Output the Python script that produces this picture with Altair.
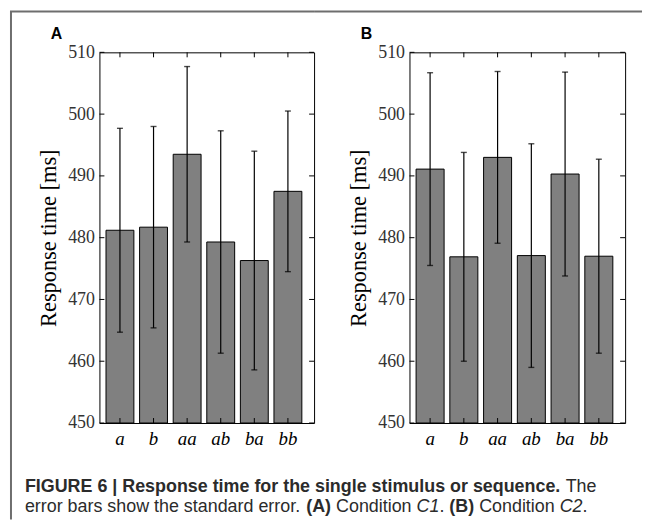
import altair as alt
import pandas as pd

# ---------------- data ----------------
categories = ["a", "b", "aa", "ab", "ba", "bb"]
mean_c1 = [481.2, 481.7, 493.5, 479.3, 476.3, 487.5]
se_c1 = [16.5, 16.3, 14.2, 18.0, 17.7, 13.0]
mean_c2 = [491.1, 476.9, 493.0, 477.1, 490.3, 477.0]
se_c2 = [15.6, 16.9, 13.9, 18.1, 16.5, 15.7]
y_ticks = [450, 460, 470, 480, 490, 500, 510]
y_title = "Response time [ms]"
panel_letters = ["A", "B"]

caption_line1 = [
    ("FIGURE 6 | Response time for the single stimulus or sequence.", "bold", "normal"),
    (" The", "normal", "normal"),
]
caption_line2 = [
    ("error bars show the standard error. ", "normal", "normal"),
    ("(A)", "bold", "normal"),
    (" Condition ", "normal", "normal"),
    ("C1", "normal", "italic"),
    (". ", "normal", "normal"),
    ("(B)", "bold", "normal"),
    (" Condition ", "normal", "normal"),
    ("C2", "normal", "italic"),
    (".", "normal", "normal"),
]

# Arial / Liberation Sans advance widths (1/1000 em), used only to chain caption segments
_REG = {" ": 278, "(": 333, ")": 333, ".": 278, "|": 260, "1": 556, "2": 556, "6": 556,
        "A": 667, "B": 667, "C": 722, "F": 611, "G": 778, "I": 278, "R": 722, "T": 611,
        "U": 722, "E": 667, "a": 556, "b": 556, "c": 500, "d": 556, "e": 556, "f": 278,
        "g": 556, "h": 556, "i": 222, "l": 222, "m": 833, "n": 556, "o": 556, "p": 556,
        "q": 556, "r": 333, "s": 500, "t": 278, "u": 556, "w": 722}
_BOLD = {" ": 278, "(": 333, ")": 333, ".": 278, "|": 280, "1": 556, "2": 556, "6": 556,
         "A": 722, "B": 722, "C": 722, "F": 611, "G": 778, "I": 278, "R": 722, "T": 611,
         "U": 722, "E": 667, "a": 556, "b": 611, "c": 556, "d": 611, "e": 556, "f": 333,
         "g": 611, "h": 611, "i": 278, "l": 278, "m": 889, "n": 611, "o": 611, "p": 611,
         "q": 611, "r": 389, "s": 556, "t": 333, "u": 611, "w": 778}


def text_width(t, weight, size):
    tbl = _BOLD if weight == "bold" else _REG
    return sum(tbl.get(ch, 556) for ch in t) * size / 1000.0


# ---------------- style / layout ----------------
FRAME = "#6e6e6e"
SERIF = "Liberation Serif"
SANS = "Liberation Sans"
CAP_SIZE = 18
H = 373            # plot height (page y 52 .. 423)
PLOT_TOP = 52      # page y of the plot tops
PLOT_LEFT = 97     # page x of panel A's plot
GAP_AB = 96        # between panel A's right edge and panel B's left edge
TOP_LINE = -41     # frame line above the plots (relative to plot top)
FRAME_BOTTOM = 522

yscale = alt.Scale(domain=[450, 510], nice=False, zero=False)
xscale = alt.Scale(paddingInner=0.17, paddingOuter=0.28, align=0.35)
xaxis = alt.Axis(title=None, labelAngle=0, ticks=False, domain=False,
                 labelFont=SERIF, labelFontStyle="italic",
                 labelFontSize=19, labelColor="black", labelPadding=7)
yaxis = alt.Axis(values=y_ticks, grid=False, ticks=False, domain=False,
                 labelFont=SERIF, labelFontSize=18, labelColor="#333333",
                 labelPadding=5, title=y_title, titleFont=SERIF,
                 titleFontSize=22.5, titleFontWeight="normal",
                 titleColor="black", titlePadding=7)


def X():
    return alt.X("cat:N", sort=categories, scale=xscale, axis=xaxis)


def Y(field):
    return alt.Y(field, scale=yscale, axis=yaxis, title=y_title)


def caption_layers():
    cbase = alt.Chart(pd.DataFrame({"d": [0]}))
    out = []
    for segs, ypage in [(caption_line1, 494), (caption_line2, 515)]:
        xp = 22 - PLOT_LEFT
        for (t, w, s) in segs:
            lead = len(t) - len(t.lstrip(" "))
            trail = len(t) - len(t.rstrip(" "))
            core = t.strip(" ")
            xp += text_width(" " * lead, "normal", CAP_SIZE)
            out.append(cbase.mark_text(
                align="left", baseline="alphabetic", font=SANS, fontSize=CAP_SIZE,
                fontWeight=w, fontStyle=s, color="#2b2b2b").encode(
                x=alt.value(xp), y=alt.value(ypage - PLOT_TOP), text=alt.value(core)))
            xp += text_width(core, w, CAP_SIZE)
            xp += text_width(" " * trail, "normal", CAP_SIZE)
    return out


def panel(means, ses, letter, width, top_x1, top_x2, first):
    df = pd.DataFrame({
        "cat": categories,
        "mean": means,
        "lo": [m - s for m, s in zip(means, ses)],
        "hi": [m + s for m, s in zip(means, ses)],
    })
    base = alt.Chart(df)
    bars = base.mark_bar(color="#808080", stroke="black", strokeWidth=1).encode(
        x=X(), y=Y("mean:Q"), y2=alt.datum(450))
    err = base.mark_rule(color="black", strokeWidth=1.2).encode(
        x=X(), y=Y("lo:Q"), y2="hi:Q")
    cap_lo = base.mark_tick(color="black", thickness=1.4, size=6).encode(
        x=X(), y=Y("lo:Q"))
    cap_hi = base.mark_tick(color="black", thickness=1.4, size=6).encode(
        x=X(), y=Y("hi:Q"))

    tbase = alt.Chart(pd.DataFrame({"v": y_ticks}))
    lt = tbase.mark_rule(color="black", strokeWidth=1).encode(
        y=Y("v:Q"), x=alt.value(0), x2=alt.value(5))
    rt = tbase.mark_rule(color="black", strokeWidth=1).encode(
        y=Y("v:Q"), x=alt.value(width - 5), x2=alt.value(width))
    bt = base.mark_rule(color="black", strokeWidth=1).encode(
        x=X(), y=alt.value(H), y2=alt.value(H - 5))
    tt = base.mark_rule(color="black", strokeWidth=1).encode(
        x=X(), y=alt.value(0), y2=alt.value(5))

    one = alt.Chart(pd.DataFrame({"t": [letter]}))
    top_line = one.mark_rule(color=FRAME, strokeWidth=2).encode(
        x=alt.value(top_x1), x2=alt.value(top_x2), y=alt.value(TOP_LINE))
    lab = one.mark_text(align="left", baseline="alphabetic", font=SANS,
                        fontSize=16, fontWeight="bold", color="black").encode(
        text="t:N", x=alt.value(-49), y=alt.value(-13))
    layers = [bars, err, cap_lo, cap_hi, lt, rt, bt, tt, top_line, lab]
    if first:
        left_line = one.mark_rule(color=FRAME, strokeWidth=2).encode(
            x=alt.value(-89), y=alt.value(TOP_LINE),
            y2=alt.value(FRAME_BOTTOM - PLOT_TOP))
        layers.append(left_line)
        layers.extend(caption_layers())
    return alt.layer(*layers).properties(
        width=width, height=H,
        view=alt.ViewBackground(stroke="black", strokeWidth=1))


pA = panel(mean_c1, se_c1, panel_letters[0], 216, -90, 216, True)
pB = panel(mean_c2, se_c2, panel_letters[1], 217, -GAP_AB, 234, False)

chart = alt.hconcat(pA, pB, spacing=GAP_AB, bounds="flush").properties(
    padding=0, background="white")

chart.save("out.html", embed_options={"renderer": "svg", "actions": False})
